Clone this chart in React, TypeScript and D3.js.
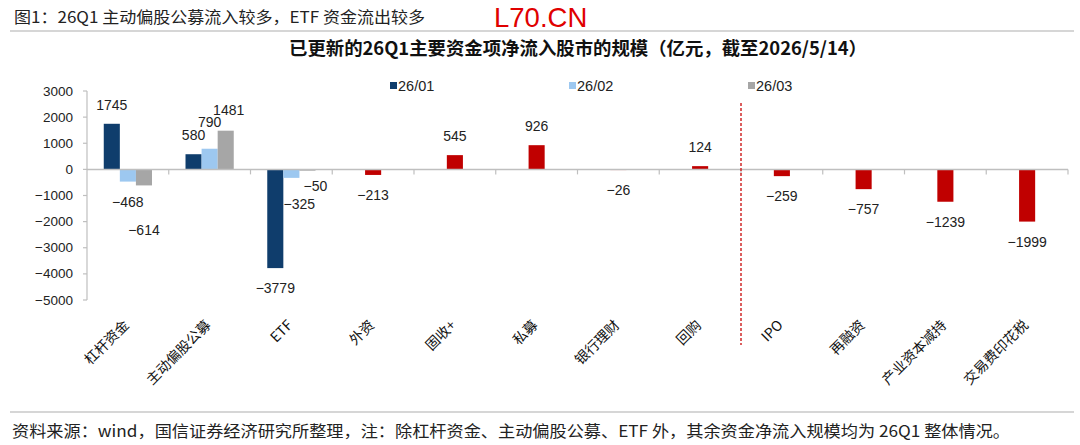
import React, { useEffect, useRef } from 'react';
import * as d3 from 'd3';

// categories along the x axis
const categories = ['杠杆资金', '主动偏股公募', 'ETF', '外资', '固收+', '私募', '银行理财', '回购', 'IPO', '再融资', '产业资本减持', '交易费印花税'];
const monthSeries = ['26/01', '26/02', '26/03'];
// monthly values (only for the first three categories)
const month01 = [1745, 580, -3779];
const month02 = [-468, 790, -325];
const month03 = [-614, 1481, -50];
// quarterly totals for the rest
const quarterCats = ['外资', '固收+', '私募', '银行理财', '回购', 'IPO', '再融资', '产业资本减持', '交易费印花税'];
const quarterVals = [-213, 545, 926, -26, 124, -259, -757, -1239, -1999];
const yTicks = [3000, 2000, 1000, 0, -1000, -2000, -3000, -4000, -5000];

const headerText = '图1：26Q1 主动偏股公募流入较多，ETF 资金流出较多';
const titleText = '已更新的26Q1主要资金项净流入股市的规模（亿元，截至2026/5/14）';
const footerText = '资料来源：wind，国信证券经济研究所整理，注：除杠杆资金、主动偏股公募、ETF 外，其余资金净流入规模均为 26Q1 整体情况。';

// hand-placed label nudges, as in the original
const labelNudge: Record<string, [number, number]> = {
  '主动偏股公募|26/02': [0, -8],
  '主动偏股公募|26/03': [3, -2],
  '杠杆资金|26/03': [0, 25],
  'ETF|26/02': [8, 6],
  'ETF|26/03': [8, -5],
};

const colors: Record<string, string> = {
  '26/01': '#0f3d6c',
  '26/02': '#9dc8f0',
  '26/03': '#a6a6a6',
  q: '#c00000',
};

const App: React.FC = () => {
  const svgRef = useRef<SVGSVGElement>(null);

  useEffect(() => {
    document.body.style.margin = '0';
    if (!svgRef.current) return;
    const svg = d3.select(svgRef.current);
    svg.selectAll('*').remove();

    const width = 1080;
    const height = 445;
    const left = 87, right = 1068, top = 91, bottom = 300;
    const numFont = '"Liberation Sans", Arial, sans-serif';
    const cjkFont = '"Noto Sans CJK SC", "Liberation Sans", sans-serif';
    const axisColor = '#bfbfbf';

    svg.append('rect').attr('width', width).attr('height', height).attr('fill', '#fff');

    // header
    svg.append('text').attr('x', 14).attr('y', 16).attr('dominant-baseline', 'central')
      .attr('font-family', cjkFont).attr('font-size', 16).attr('fill', '#222')
      .attr('textLength', 411).attr('lengthAdjust', 'spacingAndGlyphs').text(headerText);
    svg.append('text').attr('x', 494).attr('y', 27)
      .attr('font-family', numFont).attr('font-size', 27.5).attr('fill', '#e00000').text('L70.CN');
    svg.append('line').attr('x1', 10).attr('x2', 1074).attr('y1', 31).attr('y2', 31)
      .attr('stroke', '#c8c8c8').attr('stroke-width', 1.5);

    // title
    svg.append('text').attr('x', 289).attr('y', 47).attr('dominant-baseline', 'central')
      .attr('font-family', cjkFont).attr('font-size', 18).attr('font-weight', 'bold').attr('fill', '#111')
      .attr('textLength', 578).attr('lengthAdjust', 'spacingAndGlyphs').text(titleText);

    const x0 = d3.scaleBand<string>().domain(categories).range([left, right]).paddingInner(0.41).paddingOuter(0.205);
    const x1 = d3.scaleBand<string>().domain(monthSeries).range([0, x0.bandwidth()]);
    const y = d3.scaleLinear().domain([-5000, 3000]).range([bottom, top]);
    const step = x0.step();

    // y axis
    svg.append('line').attr('x1', left).attr('x2', left).attr('y1', y(3000)).attr('y2', y(-5000))
      .attr('stroke', axisColor).attr('stroke-width', 1.2);
    yTicks.forEach(t => {
      svg.append('line').attr('x1', left - 4).attr('x2', left).attr('y1', y(t)).attr('y2', y(t))
        .attr('stroke', axisColor).attr('stroke-width', 1.2);
      svg.append('text').attr('x', left - 14).attr('y', y(t)).attr('text-anchor', 'end').attr('dominant-baseline', 'central')
        .attr('font-family', numFont).attr('font-size', 13.5).attr('fill', '#222').text(t < 0 ? '−' + Math.abs(t) : String(t));
    });

    const monthly = [month01, month02, month03];
    const rows: { cat: string; key: string; v: number; x: number; w: number; fill: string }[] = [];
    monthSeries.forEach((s, si) => {
      monthly[si].forEach((v, ci) => {
        const cat = categories[ci];
        rows.push({ cat, key: s, v, x: (x0(cat) ?? 0) + (x1(s) ?? 0), w: x1.bandwidth(), fill: colors[s] });
      });
    });
    quarterCats.forEach((cat, i) => {
      rows.push({ cat, key: 'q', v: quarterVals[i], x: (x0(cat) ?? 0) + (x1('26/02') ?? 0), w: x1.bandwidth(), fill: colors.q });
    });

    svg.selectAll('.bar').data(rows).enter().append('rect')
      .attr('x', d => d.x).attr('width', d => d.w)
      .attr('y', d => Math.min(y(d.v), y(0))).attr('height', d => Math.abs(y(d.v) - y(0)))
      .attr('fill', d => d.fill);

    // zero line and category ticks
    svg.append('line').attr('x1', left).attr('x2', right).attr('y1', y(0)).attr('y2', y(0))
      .attr('stroke', axisColor).attr('stroke-width', 1.5);
    d3.range(1, categories.length + 1).forEach(i => {
      const bx = left + i * step;
      svg.append('line').attr('x1', bx).attr('x2', bx).attr('y1', y(0)).attr('y2', y(0) + 5)
        .attr('stroke', axisColor).attr('stroke-width', 1.2);
    });

    // data labels
    svg.selectAll('.lbl').data(rows).enter().append('text')
      .attr('x', d => d.x + d.w / 2 + (labelNudge[d.cat + '|' + d.key]?.[0] ?? 0))
      .attr('y', d => y(d.v) + (d.v >= 0 ? -19 : 20) + (labelNudge[d.cat + '|' + d.key]?.[1] ?? 0))
      .attr('text-anchor', 'middle').attr('dominant-baseline', 'central')
      .attr('font-family', numFont).attr('font-size', 14).attr('fill', '#222')
      .text(d => (d.v < 0 ? '−' + Math.abs(d.v) : String(d.v)));

    // separator between monthly / quarterly items
    const sepX = left + 8 * step;
    svg.append('line').attr('x1', sepX).attr('x2', sepX).attr('y1', 103).attr('y2', 345)
      .attr('stroke', '#d02828').attr('stroke-width', 1.5).attr('stroke-dasharray', '3,2');

    // x labels
    categories.forEach(c => {
      const cx = (x0(c) ?? 0) + x0.bandwidth() / 2 + 2;
      svg.append('text').attr('transform', `translate(${cx},326) rotate(-45)`)
        .attr('text-anchor', 'end').attr('font-family', cjkFont).attr('font-size', 14).attr('fill', '#111').text(c);
    });

    // legend
    const legendX = [390, 569, 748];
    monthSeries.forEach((s, i) => {
      svg.append('rect').attr('x', legendX[i]).attr('y', 82).attr('width', 7).attr('height', 7).attr('fill', colors[s]);
      svg.append('text').attr('x', legendX[i] + 8).attr('y', 86).attr('dominant-baseline', 'central')
        .attr('font-family', numFont).attr('font-size', 14.5).attr('fill', '#222').text(s);
    });

    // footer
    svg.append('line').attr('x1', 10).attr('x2', 1074).attr('y1', 412).attr('y2', 412)
      .attr('stroke', '#c8c8c8').attr('stroke-width', 1.5);
    svg.append('text').attr('x', 12).attr('y', 430).attr('dominant-baseline', 'central')
      .attr('font-family', cjkFont).attr('font-size', 16).attr('fill', '#222')
      .attr('textLength', 998).attr('lengthAdjust', 'spacingAndGlyphs').text(footerText);
  }, []);

  return <svg ref={svgRef} width={1080} height={445} viewBox="0 0 1080 445" style={{ display: 'block' }} />;
};

export default App;
